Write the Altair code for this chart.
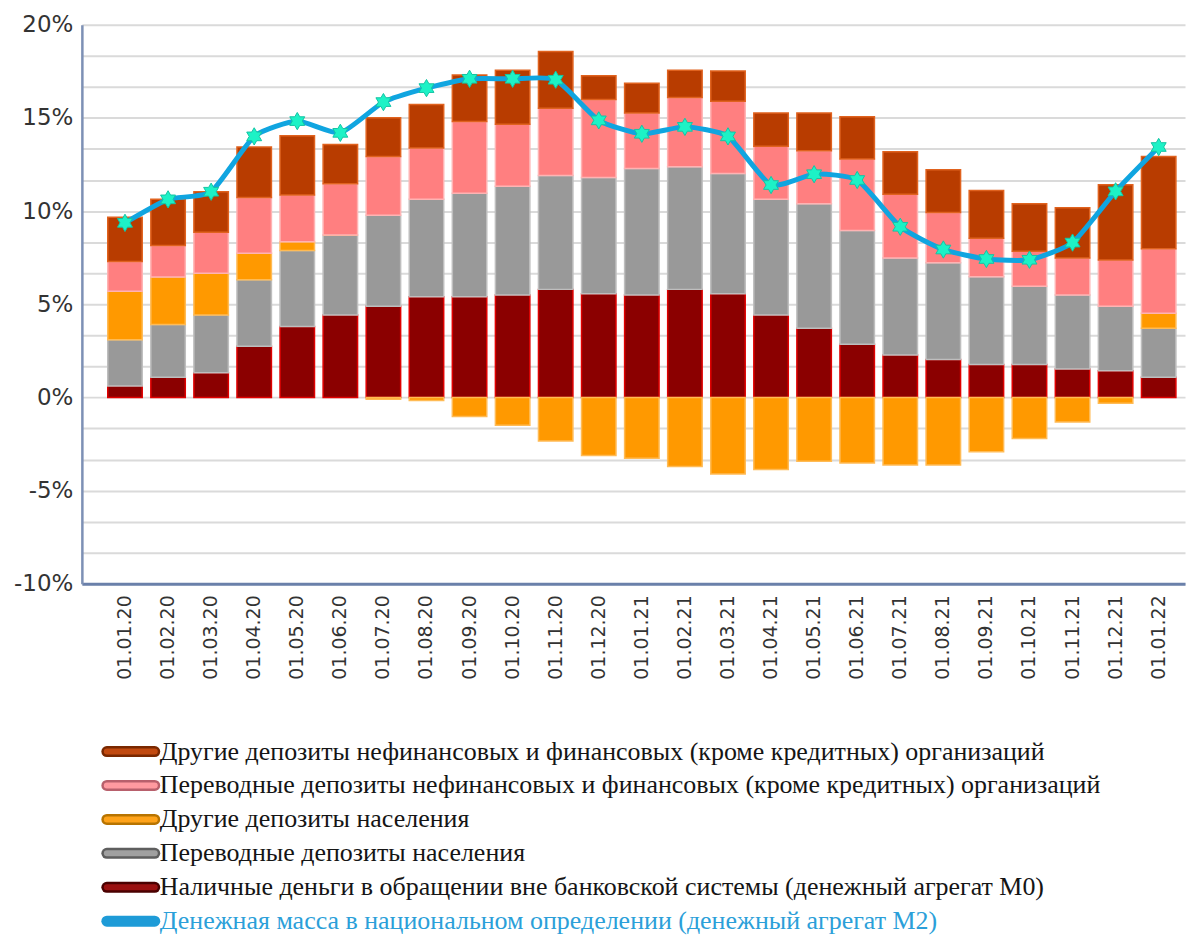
import altair as alt
import pandas as pd

dates = ["01.01.20", "01.02.20", "01.03.20", "01.04.20", "01.05.20", "01.06.20",
         "01.07.20", "01.08.20", "01.09.20", "01.10.20", "01.11.20", "01.12.20",
         "01.01.21", "01.02.21", "01.03.21", "01.04.21", "01.05.21", "01.06.21",
         "01.07.21", "01.08.21", "01.09.21", "01.10.21", "01.11.21", "01.12.21",
         "01.01.22"]

# contributions to growth, percentage points
m0_cash = [0.61, 1.08, 1.32, 2.75, 3.81, 4.42, 4.89, 5.40, 5.40, 5.50, 5.80, 5.56,
           5.50, 5.80, 5.56, 4.42, 3.71, 2.85, 2.28, 2.04, 1.77, 1.77, 1.53, 1.43, 1.08]
transfer_pop = [2.49, 2.83, 3.10, 3.56, 4.07, 4.30, 4.89, 5.23, 5.56, 5.84, 6.11, 6.25,
                6.78, 6.58, 6.46, 6.21, 6.68, 6.11, 5.21, 5.19, 4.71, 4.20, 3.97, 3.46, 2.63]
other_pop = [2.60, 2.55, 2.24, 1.43, 0.47, 0.0, -0.10, -0.16, -1.02, -1.49, -2.34, -3.12,
             -3.26, -3.71, -4.11, -3.87, -3.42, -3.52, -3.63, -3.63, -2.91, -2.20, -1.32, -0.31, 0.81]
transfer_org = [1.60, 1.69, 2.20, 2.99, 2.51, 2.75, 3.15, 2.75, 3.85, 3.32, 3.61, 4.18,
                2.99, 3.71, 3.87, 2.85, 2.85, 3.83, 3.41, 2.69, 2.07, 1.87, 1.99, 2.48, 3.46]
other_org = [2.37, 2.48, 2.18, 2.71, 3.19, 2.11, 2.08, 2.34, 2.50, 2.90, 3.05, 1.28,
             1.59, 1.47, 1.63, 1.79, 2.03, 2.28, 2.28, 2.30, 2.55, 2.55, 2.69, 4.04, 4.95]
m2_growth = [9.37, 10.63, 11.04, 14.01, 14.83, 14.20, 15.85, 16.60, 17.10, 17.10, 17.05, 14.87,
             14.15, 14.52, 14.01, 11.40, 11.98, 11.67, 9.16, 7.94, 7.43, 7.39, 8.31, 11.06, 13.44]

series_names = [
    "Наличные деньги в обращении вне банковской системы (денежный агрегат М0)",
    "Переводные депозиты населения",
    "Другие депозиты населения",
    "Переводные депозиты нефинансовых и финансовых (кроме кредитных)  организаций",
    "Другие депозиты нефинансовых и финансовых (кроме кредитных)  организаций",
]
m2_name = "Денежная масса в национальном  определении  (денежный агрегат  М2)"
series_values = [m0_cash, transfer_pop, other_pop, transfer_org, other_org]

bar_fill = ["#8B0000", "#999999", "#FF9900", "#FF7F80", "#B83C00"]
bar_stroke = ["#E00000", "#BEBEBE", "#FFBB55", "#FFB3B3", "#E0621E"]

rows = []
for i, d in enumerate(dates):
    for k, (name, vals) in enumerate(zip(series_names, series_values)):
        rows.append({"date": d, "series": name, "value": vals[i], "ord": k})
df_bars = pd.DataFrame(rows)
df_m2 = pd.DataFrame({"date": dates, "m2": m2_growth})

grid_vals = [round(-10 + i * 5 / 3, 4) for i in range(19)]

y_axis = alt.Axis(values=grid_vals, title=None, grid=True, gridColor="#DADADA", gridWidth=2,
                  ticks=False, domainColor="#7D90B5", domainWidth=2.5,
                  labelFont="DejaVu Sans", labelFontSize=23, labelColor="#333333",
                  labelPadding=9, minExtent=68, maxExtent=68, labelOverlap=False,
                  labelFlush=False,
                  labelExpr="abs(datum.value - round(datum.value / 5) * 5) < 0.01 ? "
                            "(datum.value < 0 ? '-' : '') + format(abs(datum.value), '.0f') + '%' : ''")
y_scale = alt.Scale(domain=[-10, 20], nice=False, zero=False)

x_enc = alt.X("date:N", sort=dates,
              scale=alt.Scale(paddingInner=0.2, paddingOuter=0.406, align=0.74),
              axis=alt.Axis(title=None, labelAngle=270, labelFont="DejaVu Sans", labelFontSize=19,
                            labelColor="#333333", ticks=False, domainColor="#6A80AA",
                            domainWidth=3, labelPadding=11, grid=False))

bars = alt.Chart(df_bars).mark_bar(strokeWidth=1.5).encode(
    x=x_enc,
    y=alt.Y("value:Q", stack="zero", scale=y_scale, axis=y_axis),
    color=alt.Color("series:N", scale=alt.Scale(domain=series_names, range=bar_fill), legend=None),
    stroke=alt.Stroke("series:N", scale=alt.Scale(domain=series_names, range=bar_stroke), legend=None),
    order=alt.Order("ord:Q", sort="ascending"),
)

line = alt.Chart(df_m2).mark_line(color="#10A5E0", strokeWidth=5, interpolate="cardinal",
                                  tension=0.45).encode(
    x=alt.X("date:N", sort=dates),
    y=alt.Y("m2:Q", scale=y_scale, axis=y_axis),
)

star6 = ("M0,-1L0.289,-0.5L0.866,-0.5L0.577,0L0.866,0.5L0.289,0.5L0,1L-0.289,0.5"
         "L-0.866,0.5L-0.577,0L-0.866,-0.5L-0.289,-0.5Z")
pts = alt.Chart(df_m2).mark_point(shape=star6, filled=True, size=300, fill="#1DF2C6",
                                  stroke="#14C4A4", strokeWidth=1, opacity=1).encode(
    x=alt.X("date:N", sort=dates),
    y=alt.Y("m2:Q", scale=y_scale, axis=y_axis),
)

main = alt.layer(bars, line, pts).properties(width=1105, height=560)

# legend
leg_names = [series_names[4], series_names[3], series_names[2], series_names[1], series_names[0], m2_name]
leg_fill = ["#C24A10", "#FF9AA0", "#FFA31A", "#A0A0A0", "#9A1010", "#1E9BD7"]
leg_border = ["#7A2800", "#B8606C", "#B87400", "#5E5E5E", "#4A0000", "#1E9BD7"]
leg_text = ["#151515", "#151515", "#151515", "#151515", "#151515", "#2B9FD9"]
df_leg = pd.DataFrame({"name": leg_names, "fill": leg_fill, "border": leg_border, "tcolor": leg_text})

ly = alt.Y("name:N", sort=leg_names, axis=None, scale=alt.Scale(type="point", padding=0))
sw_outer = alt.Chart(df_leg).mark_rule(strokeWidth=11, strokeCap="round").encode(
    y=ly, x=alt.value(25), x2=alt.value(73), color=alt.Color("border:N", scale=None))
sw_inner = alt.Chart(df_leg).mark_rule(strokeWidth=6, strokeCap="round").encode(
    y=ly, x=alt.value(25), x2=alt.value(73), color=alt.Color("fill:N", scale=None))
ltext = alt.Chart(df_leg).mark_text(align="left", baseline="middle", font="Liberation Serif",
                                    fontSize=26).encode(
    y=ly, x=alt.value(78), text="name:N", color=alt.Color("tcolor:N", scale=None))
legend = alt.layer(sw_outer, sw_inner, ltext).properties(width=1105, height=170)

chart = alt.vconcat(main, legend, spacing=59).properties(
    padding={"left": 5, "top": 5, "right": 5, "bottom": 0}
).configure_view(stroke=None)

chart.save("out.html", embed_options={"renderer": "svg", "actions": False})
